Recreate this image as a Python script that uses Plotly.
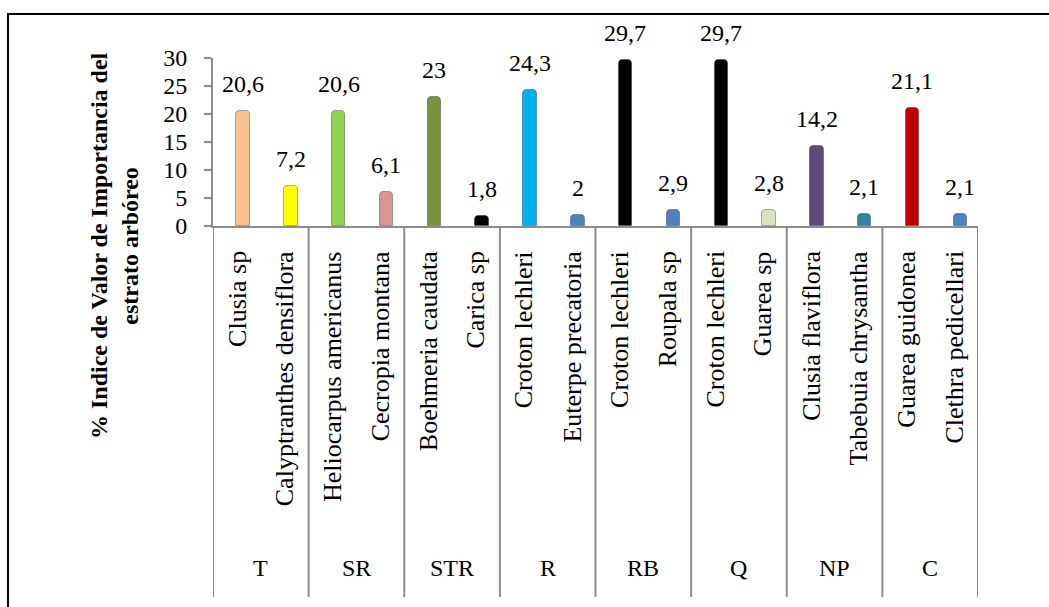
import plotly.graph_objects as go

# ---- data ----
groups = ["T", "SR", "STR", "R", "RB", "Q", "NP", "C"]
species = [
    "Clusia sp", "Calyptranthes densiflora",
    "Heliocarpus americanus", "Cecropia montana",
    "Boehmeria caudata", "Carica sp",
    "Croton lechleri", "Euterpe precatoria",
    "Croton lechleri", "Roupala sp",
    "Croton lechleri", "Guarea sp",
    "Clusia flaviflora", "Tabebuia chrysantha",
    "Guarea guidonea", "Clethra pedicellari",
]
values = [20.6, 7.2, 20.6, 6.1, 23, 1.8, 24.3, 2, 29.7, 2.9, 29.7, 2.8, 14.2, 2.1, 21.1, 2.1]
colors = [
    "#FAC090", "#FFFF00", "#92D050", "#D99694",
    "#77933C", "#000000", "#00B0F0", "#4F81BD",
    "#000000", "#4F81BD", "#000000", "#D7E4BD",
    "#604A7B", "#31859C", "#C00000", "#4F81BD",
]
y_ticks = [0, 5, 10, 15, 20, 25, 30]
y_title = "% Indice de Valor de Importancia del<br>estrato arbóreo"

# ---- layout geometry (pixels) ----
W, H = 1049, 607
L, R, T, B = 213, 978, 58, 226   # plot area edges
pw, ph = R - L, B - T
FONT = "Liberation Serif, Times New Roman, serif"
AX = "#8C8C8C"

def px_x(p):
    return (p - L) / pw

def px_y(p):
    return (B - p) / ph

n_per = len(species) // len(groups)
xs = list(range(len(species)))
labels = [f"{v:g}".replace(".", ",") for v in values]

fig = go.Figure()
fig.add_trace(go.Bar(
    x=xs, y=values,
    width=0.28, offset=-0.01,
    marker=dict(color=colors, line=dict(color="rgba(0,0,0,0.3)", width=1), cornerradius=4),
    hoverinfo="skip",
    showlegend=False,
))

annotations = []
# data labels
for i, (v, lab) in enumerate(zip(values, labels)):
    annotations.append(dict(
        x=i, y=v, xref="x", yref="y", text=lab, showarrow=False,
        xshift=6, yshift=27, yanchor="middle", xanchor="center",
        font=dict(family=FONT, size=24, color="black"),
    ))
# species labels (rotated)
for i, s in enumerate(species):
    annotations.append(dict(
        x=i, y=px_y(249), xref="x", yref="paper", text=s, showarrow=False,
        textangle=-90, yanchor="top", xanchor="center",
        font=dict(family=FONT, size=26, color="black"),
    ))
# group labels
for g, name in enumerate(groups):
    annotations.append(dict(
        x=g * n_per + (n_per - 1) / 2, y=px_y(568), xref="x", yref="paper",
        text=name, showarrow=False, yanchor="middle", xanchor="center",
        font=dict(family=FONT, size=24, color="black"),
    ))
# axis title
annotations.append(dict(
    x=px_x(114), y=px_y(245), xref="paper", yref="paper", text="<b>" + y_title + "</b>",
    showarrow=False, textangle=-90, xanchor="center", yanchor="middle", align="center",
    font=dict(family=FONT, size=24, color="black"),
))

shapes = []
# group dividers on category axis
for g in range(len(groups) + 1):
    shapes.append(dict(
        type="line", xref="x", yref="paper",
        x0=g * n_per - 0.5, x1=g * n_per - 0.5, y0=0, y1=px_y(597),
        line=dict(color=AX, width=2),
    ))
# outer chart border
shapes.append(dict(
    type="rect", xref="paper", yref="paper",
    x0=px_x(8), x1=px_x(W + 20), y0=px_y(H + 20), y1=px_y(14),
    line=dict(color="black", width=2), fillcolor="rgba(0,0,0,0)", layer="above",
))

fig.update_layout(
    width=W, height=H,
    margin=dict(l=L, r=W - R, t=T, b=H - B, pad=0),
    paper_bgcolor="white", plot_bgcolor="white",
    annotations=annotations, shapes=shapes,
    bargap=0,
    xaxis=dict(
        range=[-0.5, len(species) - 0.5], showticklabels=False, ticks="",
        showgrid=False, zeroline=False, showline=True, linecolor=AX, linewidth=2,
        fixedrange=True,
    ),
    yaxis=dict(
        range=[0, 30], tickvals=y_ticks, ticktext=[str(t) for t in y_ticks],
        ticks="outside", ticklen=7, tickwidth=2, tickcolor=AX,
        showline=True, linecolor=AX, linewidth=2, showgrid=False, zeroline=False,
        tickfont=dict(family=FONT, size=24, color="black"), ticklabelstandoff=12,
        fixedrange=True,
    ),
)

fig.write_html("out.html")
